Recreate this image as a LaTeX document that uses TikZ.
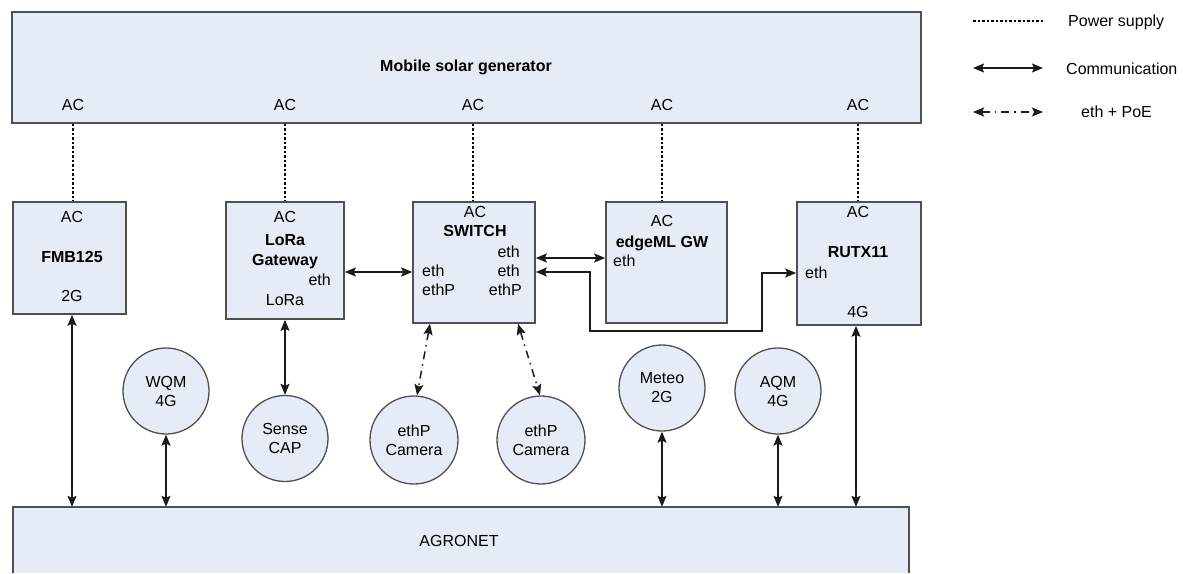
\documentclass[tikz,border=0pt]{standalone}
\usepackage{fontspec}
\setmainfont{Liberation Sans}
\usetikzlibrary{arrows.meta}
\definecolor{boxfill}{HTML}{E6ECF7}
\definecolor{boxline}{HTML}{505050}
\definecolor{lineclr}{HTML}{1A1A1A}
\begin{document}
\begin{tikzpicture}[x=1pt,y=-1pt,
  box/.style={draw=boxline,fill=boxfill,line width=1.6pt,inner sep=0pt},
  circ/.style={circle,draw=boxline,fill=boxfill,line width=1.3pt,inner sep=0pt,minimum size=86pt,align=center,font=\fontsize{16}{19}\selectfont},
  txt/.style={inner sep=0pt,font=\fontsize{16}{19}\selectfont},
  btxt/.style={inner sep=0pt,font=\fontsize{16}{19}\selectfont\bfseries},
  comm/.style={draw=lineclr,line width=1.5pt,{Stealth[length=11pt,width=9pt,inset=2pt]}-{Stealth[length=11pt,width=9pt,inset=2pt]}},
  poe/.style={draw=lineclr,line width=1.5pt,dash pattern=on 8pt off 5pt on 1.5pt off 5pt,{Stealth[length=11pt,width=9pt,inset=2pt]}-{Stealth[length=11pt,width=9pt,inset=2pt]}},
  power/.style={draw=black,line width=2pt,dash pattern=on 2.5pt off 2pt}
]
\useasboundingbox (0,0) rectangle (1183,573);

% ---------- boxes ----------
\node[box,minimum width=909pt,minimum height=111pt] (gen) at (466.5,67.5) {};
\node[box,minimum width=113pt,minimum height=112pt] (fmb) at (69.5,258) {};
\node[box,minimum width=118pt,minimum height=117pt] (lora) at (285,260.5) {};
\node[box,minimum width=122pt,minimum height=121pt] (sw) at (474,262.5) {};
\node[box,minimum width=121pt,minimum height=121pt] (edge) at (666.5,262.5) {};
\node[box,minimum width=124pt,minimum height=123pt] (rut) at (859,263.5) {};
\node[fill=boxfill,inner sep=0pt,minimum width=896pt,minimum height=66pt] (agro) at (461,540) {};
\draw[boxline,line width=1.6pt] (agro.south west) -- (agro.north west) -- (agro.north east) -- (agro.south east);

% ---------- circles ----------
\node[circ] (wqm) at (166,391) {WQM\\4G};
\node[circ] (sense) at (285,438.5) {Sense\\CAP};
\node[circ,minimum size=88pt] (cam1) at (414,440) {ethP\\Camera};
\node[circ,minimum size=88pt] (cam2) at (541,440) {ethP\\Camera};
\node[circ] (meteo) at (662,388) {Meteo\\2G};
\node[circ] (aqm) at (778,391) {AQM\\4G};

% ---------- texts ----------
\node[btxt,anchor=base] (gent) at (466,71.5) {Mobile solar generator};
\node[txt,anchor=base] (gac1) at (73,110.5) {AC};
\node[txt,anchor=base] (gac2) at (285,110.5) {AC};
\node[txt,anchor=base] (gac3) at (473,110.5) {AC};
\node[txt,anchor=base] (gac4) at (662,110.5) {AC};
\node[txt,anchor=base] (gac5) at (858,110.5) {AC};

\node[txt,anchor=base] (fac) at (72,222.5) {AC};
\node[btxt,anchor=base] (fname) at (72,262.5) {FMB125};
\node[txt,anchor=base] (f2g) at (72,301.5) {2G};

\node[txt,anchor=base] (lac) at (285,222.5) {AC};
\node[btxt,anchor=base] (lname1) at (285,245.5) {LoRa};
\node[btxt,anchor=base] (lname2) at (285,265.5) {Gateway};
\node[txt,anchor=base east] (leth) at (331,285.5) {eth};
\node[txt,anchor=base] (llora) at (285,305.5) {LoRa};

\node[txt,anchor=base] (sac) at (475,217.5) {AC};
\node[btxt,anchor=base] (sname) at (475,236.5) {SWITCH};
\node[txt,anchor=base east] (seth1) at (520,257.5) {eth};
\node[txt,anchor=base west] (seth2) at (422,276.5) {eth};
\node[txt,anchor=base east] (seth3) at (520,276.5) {eth};
\node[txt,anchor=base west] (sethp1) at (422,295.5) {ethP};
\node[txt,anchor=base east] (sethp2) at (522,295.5) {ethP};

\node[txt,anchor=base] (eac) at (662,226.5) {AC};
\node[btxt,anchor=base] (ename) at (662,247.5) {edgeML GW};
\node[txt,anchor=base west] (eeth) at (613,266.5) {eth};

\node[txt,anchor=base] (rac) at (858,217.5) {AC};
\node[btxt,anchor=base] (rname) at (858,257.5) {RUTX11};
\node[txt,anchor=base west] (reth) at (805,278.5) {eth};
\node[txt,anchor=base] (r4g) at (858,317.5) {4G};

\node[txt,anchor=base] (agrot) at (459,546.5) {AGRONET};

% ---------- power lines ----------
\draw[power] (gac1 |- gen.south) -- (gac1 |- fmb.north);
\draw[power] (gac2 |- gen.south) -- (gac2 |- lora.north);
\draw[power] (gac3 |- gen.south) -- (gac3 |- sw.north);
\draw[power] (gac4 |- gen.south) -- (gac4 |- edge.north);
\draw[power] (gac5 |- gen.south) -- (gac5 |- rut.north);

% ---------- communication ----------
\coordinate (yls) at (0,272);
\coordinate (yse) at (0,258);
\coordinate (r1) at (590,272);
\coordinate (r2) at (590,331);
\coordinate (r3) at (762,331);
\coordinate (r4) at (762,273);

\draw[comm] (lora.east |- yls) -- (sw.west |- yls);
\draw[comm] (sw.east |- yse) -- (edge.west |- yse);
\draw[comm] (sw.east |- yls) -- (r1) -- (r2) -- (r3) -- (r4) -- (rut.west |- r4);

\draw[comm] (fac |- fmb.south) -- (fac |- agro.north);
\draw[comm] (wqm.south) -- (wqm.south |- agro.north);
\draw[comm] (lora.south) -- (sense.north);
\draw[comm] (meteo.south) -- (meteo.south |- agro.north);
\draw[comm] (aqm.south) -- (aqm.south |- agro.north);
\draw[comm] ([xshift=-3pt]rut.south) -- ([xshift=-3pt]rut.south |- agro.north);

\draw[poe] ([xshift=-44pt]sw.south) -- ([xshift=3pt]cam1.north);
\draw[poe] ([xshift=44pt]sw.south) -- ([xshift=-1pt]cam2.north);

% ---------- legend ----------
\coordinate (la1) at (973,21);
\coordinate (lb1) at (1043,21);
\coordinate (la2) at (973,68);
\coordinate (lb2) at (1043,68);
\coordinate (la3) at (973,112);
\coordinate (lb3) at (1043,112);
\draw[power,line width=1.8pt] (la1) -- (lb1);
\draw[comm] (la2) -- (lb2);
\draw[poe] (la3) -- (lb3);
\node[txt,anchor=base west] (lt1) at (1068,26.5) {Power supply};
\node[txt,anchor=base west] (lt2) at (1066,74) {Communication};
\node[txt,anchor=base west] (lt3) at (1081,117.5) {eth + PoE};
\end{tikzpicture}
\end{document}
